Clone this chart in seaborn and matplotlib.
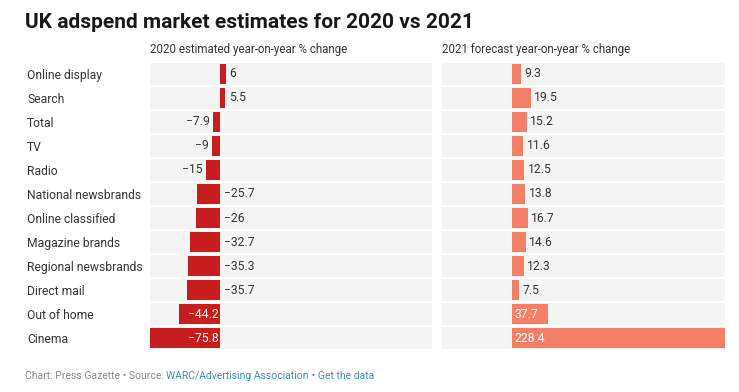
import seaborn as sns
import pandas as pd
import matplotlib.pyplot as plt

# data
categories = ['Online display', 'Search', 'Total', 'TV', 'Radio', 'National newsbrands',
              'Online classified', 'Magazine brands', 'Regional newsbrands', 'Direct mail',
              'Out of home', 'Cinema']
change_2020 = [6, 5.5, -7.9, -9, -15, -25.7, -26, -32.7, -35.3, -35.7, -44.2, -75.8]
change_2021 = [9.3, 19.5, 15.2, 11.6, 12.5, 13.8, 16.7, 14.6, 12.3, 7.5, 37.7, 228.4]

df = pd.DataFrame({'category': categories, 'y2020': change_2020, 'y2021': change_2021})

sns.set_style('white')
plt.rcParams['font.family'] = ['Roboto', 'DejaVu Sans']

fig = plt.figure(figsize=(7.39, 3.92), dpi=100)
ax1 = fig.add_axes([0.203, 0.107, 0.382, 0.735])
ax2 = fig.add_axes([0.598, 0.107, 0.383, 0.735])

xmin, xmax = min(change_2020), max(change_2021)
n = len(categories)

def fmt(v):
    s = ('%g' % v)
    return s.replace('-', '\u2212')

def draw(ax, col, color):
    for i in range(n):
        ax.axhspan(i - 0.46, i + 0.46, color='#f4f4f4', zorder=0, lw=0)
    sns.barplot(data=df, x=col, y='category', orient='h', color=color, width=0.84,
                saturation=1, edgecolor='none', ax=ax, zorder=2)
    ax.set_xlim(xmin, xmax)
    ax.set_ylim(n - 0.5, -0.5)
    ax.set_xlabel('')
    ax.set_ylabel('')
    ax.set_xticks([])
    sns.despine(ax=ax, left=True, bottom=True)
    span = xmax - xmin
    pad = span * 0.012
    for i, v in enumerate(df[col]):
        if v > 30:
            ax.text(pad * 0.6, i, fmt(v), va='center', ha='left', color='white',
                    fontsize=8.7, zorder=3)
        elif v >= 0:
            ax.text(v + pad, i, fmt(v), va='center', ha='left', color='#333333',
                    fontsize=8.7, zorder=3)
        elif v < -40:
            ax.text(-pad * 0.6, i, fmt(v), va='center', ha='right', color='white',
                    fontsize=8.7, zorder=3)
        elif v < -20:
            ax.text(pad, i, fmt(v), va='center', ha='left', color='#333333',
                    fontsize=8.7, zorder=3)
        else:
            ax.text(v - pad, i, fmt(v), va='center', ha='right', color='#333333',
                    fontsize=8.7, zorder=3)

draw(ax1, 'y2020', '#c71e1d')
draw(ax2, 'y2021', '#f47f67')

ax1.tick_params(axis='y', length=0, pad=0, labelsize=8.7, labelcolor='#333333')
for lbl in ax1.get_yticklabels():
    lbl.set_horizontalalignment('left')
    lbl.set_x(-0.435)
ax2.set_yticklabels([])
ax2.tick_params(axis='y', length=0)

ax1.text(0, 1.02, '2020 estimated year-on-year % change', transform=ax1.transAxes,
         fontsize=8.3, color='#333333', ha='left', va='bottom')
ax2.text(0, 1.02, '2021 forecast year-on-year % change', transform=ax2.transAxes,
         fontsize=8.3, color='#333333', ha='left', va='bottom')

fig.text(25 / 739, 1 - 22 / 392, 'UK adspend market estimates for 2020 vs 2021',
         fontsize=15, fontweight='bold', color='#181818', ha='left', va='center')

t1 = fig.text(25 / 739, 1 - 379 / 392, 'Chart: Press Gazette \u2022 Source: ',
              fontsize=7.5, color='#888888', ha='left', va='baseline')
t2 = fig.text(0, 0, 'WARC/Advertising Association', fontsize=7.5, color='#3d8fb8',
              ha='left', va='baseline')
t3 = fig.text(0, 0, ' \u2022 Get the data', fontsize=7.5, color='#3d8fb8',
              ha='left', va='baseline')
fig.canvas.draw()
r = fig.canvas.get_renderer()
bb = t1.get_window_extent(r)
x2 = fig.transFigure.inverted().transform((bb.x1, 0))[0]
t2.set_position((x2, t1.get_position()[1]))
bb = t2.get_window_extent(r)
x3 = fig.transFigure.inverted().transform((bb.x1, 0))[0]
t3.set_position((x3, t1.get_position()[1]))

fig.savefig('out.png', dpi=100)
